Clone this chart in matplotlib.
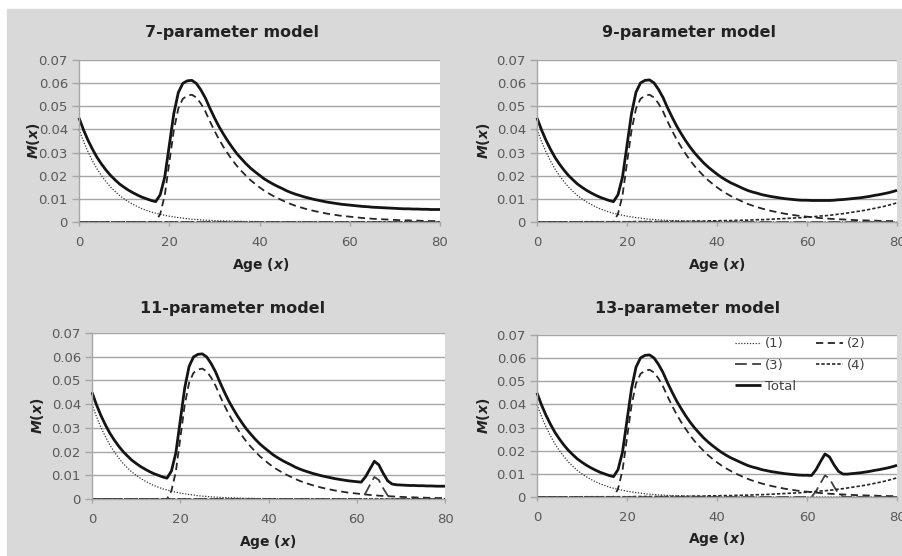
import matplotlib.pyplot as plt
from matplotlib.patches import Rectangle

# ages 0..80, values
age = list(range(81))

# (1) infant/childhood component
comp1 = [0.0400, 0.0348, 0.0303, 0.0264, 0.0229, 0.0200, 0.0174, 0.0151, 0.0132, 0.0114,
         0.0100, 0.0087, 0.0076, 0.0066, 0.0057, 0.0050, 0.0043, 0.0038, 0.0033, 0.0029,
         0.0025, 0.0022, 0.0019, 0.0017, 0.0014, 0.0012, 0.0011, 0.0009, 0.0008, 0.0007,
         0.0006, 0.0005, 0.0005, 0.0004, 0.0004, 0.0003, 0.0003, 0.0002, 0.0002, 0.0002,
         0.0002, 0.0001, 0.0001, 0.0001, 0.0001, 0.0001, 0.0, 0.0, 0.0, 0.0,
         0.0, 0.0, 0.0, 0.0, 0.0, 0.0, 0.0, 0.0, 0.0, 0.0,
         0.0, 0.0, 0.0, 0.0, 0.0, 0.0, 0.0, 0.0, 0.0, 0.0,
         0.0, 0.0, 0.0, 0.0, 0.0, 0.0, 0.0, 0.0, 0.0, 0.0,
         0.0]

# (2) young adult hump
comp2 = [0.0, 0.0, 0.0, 0.0, 0.0, 0.0, 0.0, 0.0, 0.0, 0.0,
         0.0, 0.0, 0.0, 0.0, 0.0, 0.0, 0.0, 0.0, 0.0035, 0.0115,
         0.0255, 0.0395, 0.0490, 0.0532, 0.0546, 0.0550, 0.0538, 0.0512, 0.0478, 0.0435,
         0.0395, 0.0358, 0.0325, 0.0295, 0.0267, 0.0242, 0.0220, 0.0200, 0.0181, 0.0165,
         0.0150, 0.0136, 0.0124, 0.0113, 0.0103, 0.0094, 0.0085, 0.0077, 0.0070, 0.0064,
         0.0058, 0.0053, 0.0048, 0.0044, 0.0040, 0.0036, 0.0033, 0.0030, 0.0027, 0.0025,
         0.0023, 0.0021, 0.0019, 0.0017, 0.0016, 0.0014, 0.0013, 0.0012, 0.0011, 0.0010,
         0.0009, 0.0008, 0.0007, 0.0007, 0.0006, 0.0006, 0.0005, 0.0005, 0.0004, 0.0004,
         0.0004]

# (3) hump around age 64
comp3 = [0.0, 0.0, 0.0, 0.0, 0.0, 0.0, 0.0, 0.0, 0.0, 0.0,
         0.0, 0.0, 0.0, 0.0, 0.0, 0.0, 0.0, 0.0, 0.0, 0.0,
         0.0, 0.0, 0.0, 0.0, 0.0, 0.0, 0.0, 0.0, 0.0, 0.0,
         0.0, 0.0, 0.0, 0.0, 0.0, 0.0, 0.0, 0.0, 0.0, 0.0,
         0.0, 0.0, 0.0, 0.0, 0.0, 0.0, 0.0, 0.0, 0.0, 0.0,
         0.0, 0.0, 0.0, 0.0, 0.0, 0.0, 0.0, 0.0, 0.0, 0.0,
         0.0, 0.0, 0.0025, 0.0060, 0.0093, 0.0080, 0.0045, 0.0015, 0.0002, 0.0,
         0.0, 0.0, 0.0, 0.0, 0.0, 0.0, 0.0, 0.0, 0.0, 0.0,
         0.0]

# (4) senescent component
comp4 = [0.0, 0.0, 0.0, 0.0, 0.0, 0.0, 0.0, 0.0, 0.0, 0.0,
         0.0001, 0.0001, 0.0001, 0.0001, 0.0001, 0.0001, 0.0001, 0.0001, 0.0001, 0.0001,
         0.0001, 0.0001, 0.0002, 0.0002, 0.0002, 0.0002, 0.0002, 0.0002, 0.0002, 0.0002,
         0.0003, 0.0003, 0.0003, 0.0003, 0.0003, 0.0004, 0.0004, 0.0004, 0.0005, 0.0005,
         0.0005, 0.0006, 0.0006, 0.0006, 0.0007, 0.0007, 0.0008, 0.0008, 0.0009, 0.0010,
         0.0010, 0.0011, 0.0012, 0.0013, 0.0014, 0.0015, 0.0016, 0.0017, 0.0018, 0.0019,
         0.0021, 0.0022, 0.0024, 0.0026, 0.0027, 0.0029, 0.0031, 0.0034, 0.0036, 0.0039,
         0.0042, 0.0045, 0.0048, 0.0051, 0.0055, 0.0059, 0.0063, 0.0067, 0.0072, 0.0077,
         0.0083]

none = [0.0] * len(age)

total7 = [0.0450, 0.0398, 0.0353, 0.0314, 0.0279, 0.0250, 0.0224, 0.0201, 0.0182, 0.0164,
          0.0150, 0.0137, 0.0126, 0.0116, 0.0107, 0.0100, 0.0093, 0.0088, 0.0118, 0.0194,
          0.0330, 0.0467, 0.0559, 0.0599, 0.0610, 0.0612, 0.0599, 0.0571, 0.0536, 0.0492,
          0.0451, 0.0413, 0.0380, 0.0349, 0.0321, 0.0295, 0.0273, 0.0252, 0.0233, 0.0217,
          0.0202, 0.0187, 0.0175, 0.0164, 0.0154, 0.0145, 0.0135, 0.0127, 0.0120, 0.0114,
          0.0108, 0.0103, 0.0098, 0.0094, 0.0090, 0.0086, 0.0083, 0.0080, 0.0077, 0.0075,
          0.0073, 0.0071, 0.0069, 0.0067, 0.0066, 0.0064, 0.0063, 0.0062, 0.0061, 0.0060,
          0.0059, 0.0058, 0.0057, 0.0057, 0.0056, 0.0056, 0.0055, 0.0055, 0.0054, 0.0054,
          0.0054]

total9 = [0.0450, 0.0398, 0.0353, 0.0314, 0.0279, 0.0250, 0.0224, 0.0201, 0.0182, 0.0164,
          0.0150, 0.0137, 0.0126, 0.0116, 0.0107, 0.0100, 0.0093, 0.0088, 0.0118, 0.0194,
          0.0331, 0.0468, 0.0561, 0.0601, 0.0612, 0.0614, 0.0601, 0.0573, 0.0538, 0.0494,
          0.0454, 0.0416, 0.0383, 0.0352, 0.0324, 0.0299, 0.0277, 0.0256, 0.0238, 0.0222,
          0.0207, 0.0193, 0.0181, 0.0170, 0.0161, 0.0152, 0.0143, 0.0135, 0.0129, 0.0124,
          0.0118, 0.0114, 0.0110, 0.0107, 0.0104, 0.0101, 0.0099, 0.0097, 0.0095, 0.0094,
          0.0094, 0.0093, 0.0093, 0.0093, 0.0093, 0.0093, 0.0094, 0.0096, 0.0097, 0.0099,
          0.0101, 0.0103, 0.0105, 0.0108, 0.0111, 0.0115, 0.0118, 0.0122, 0.0126, 0.0131,
          0.0137]

total11 = [0.0450, 0.0398, 0.0353, 0.0314, 0.0279, 0.0250, 0.0224, 0.0201, 0.0182, 0.0164,
           0.0150, 0.0137, 0.0126, 0.0116, 0.0107, 0.0100, 0.0093, 0.0088, 0.0118, 0.0194,
           0.0330, 0.0467, 0.0559, 0.0599, 0.0610, 0.0612, 0.0599, 0.0571, 0.0536, 0.0492,
           0.0451, 0.0413, 0.0380, 0.0349, 0.0321, 0.0295, 0.0273, 0.0252, 0.0233, 0.0217,
           0.0202, 0.0187, 0.0175, 0.0164, 0.0154, 0.0145, 0.0135, 0.0127, 0.0120, 0.0114,
           0.0108, 0.0103, 0.0098, 0.0094, 0.0090, 0.0086, 0.0083, 0.0080, 0.0077, 0.0075,
           0.0073, 0.0071, 0.0094, 0.0127, 0.0159, 0.0144, 0.0108, 0.0077, 0.0063, 0.0060,
           0.0059, 0.0058, 0.0057, 0.0057, 0.0056, 0.0056, 0.0055, 0.0055, 0.0054, 0.0054,
           0.0054]

total13 = [0.0450, 0.0398, 0.0353, 0.0314, 0.0279, 0.0250, 0.0224, 0.0201, 0.0182, 0.0164,
           0.0150, 0.0137, 0.0126, 0.0116, 0.0107, 0.0100, 0.0093, 0.0088, 0.0118, 0.0194,
           0.0331, 0.0468, 0.0561, 0.0601, 0.0612, 0.0614, 0.0601, 0.0573, 0.0538, 0.0494,
           0.0454, 0.0416, 0.0383, 0.0352, 0.0324, 0.0299, 0.0277, 0.0256, 0.0238, 0.0222,
           0.0207, 0.0193, 0.0181, 0.0170, 0.0161, 0.0152, 0.0143, 0.0135, 0.0129, 0.0124,
           0.0118, 0.0114, 0.0110, 0.0107, 0.0104, 0.0101, 0.0099, 0.0097, 0.0095, 0.0094,
           0.0094, 0.0093, 0.0118, 0.0153, 0.0186, 0.0173, 0.0139, 0.0111, 0.0099, 0.0099,
           0.0101, 0.0103, 0.0105, 0.0108, 0.0111, 0.0115, 0.0118, 0.0122, 0.0126, 0.0131,
           0.0137]

titles = ["7-parameter model", "9-parameter model", "11-parameter model", "13-parameter model"]
yticks = [0, 0.01, 0.02, 0.03, 0.04, 0.05, 0.06, 0.07]
ytick_labels = ["0", "0.01", "0.02", "0.03", "0.04", "0.05", "0.06", "0.07"]
xticks = [0, 20, 40, 60, 80]
legend_labels = ["(1)", "(2)", "(3)", "(4)", "Total"]

panels = [
    (comp1, comp2, none, none, total7),
    (comp1, comp2, none, comp4, total9),
    (comp1, comp2, comp3, none, total11),
    (comp1, comp2, comp3, comp4, total13),
]

styles = [
    dict(color="#333333", lw=0.9, ls=(0, (1, 1.3))),
    dict(color="#262626", lw=1.3, ls=(0, (4, 2.5))),
    dict(color="#404040", lw=1.3, ls=(0, (6.5, 3))),
    dict(color="#262626", lw=1.2, ls=(0, (2, 1.2))),
    dict(color="#141414", lw=2.0, ls="-"),
]

W, H = 902, 556
fig = plt.figure(figsize=(W / 100, H / 100), dpi=100, facecolor="white")
fig.patches.append(Rectangle((7 / W, 0), 1 - 7 / W, (H - 9) / H,
                             transform=fig.transFigure, color="#d9d9d9", zorder=-10))

# plot areas in pixels: left, right, top, bottom
boxes = [(79, 440, 60, 222), (537, 897, 60, 222), (92, 445, 333, 499), (537, 897, 335, 497)]
title_pos = [(232, 33), (689, 33), (233, 308), (688, 308)]
xlab_pos = [(261, 265), (717, 265), (268, 542), (717, 539)]
ylab_x = [33, 483, 38, 483]

grid_c = "#a6a6a6"
tick_c = "#595959"

for i, (l, r, t, b) in enumerate(boxes):
    ax = fig.add_axes([l / W, 1 - b / H, (r - l) / W, (b - t) / H])
    ax.set_facecolor("white")
    lines = []
    for series, st in zip(panels[i], styles):
        ln, = ax.plot(age, series, color=st["color"], lw=st["lw"], linestyle=st["ls"],
                      clip_on=False, solid_capstyle="butt")
        lines.append(ln)
    ax.set_xlim(0, 80)
    ax.set_ylim(0, 0.07)
    ax.set_yticks(yticks)
    ax.set_yticklabels(ytick_labels)
    ax.set_xticks(xticks)
    ax.yaxis.grid(True, color=grid_c, lw=1.0)
    ax.set_axisbelow(True)
    for s in ["top", "right"]:
        ax.spines[s].set_visible(False)
    for s in ["left", "bottom"]:
        ax.spines[s].set_color(grid_c)
        ax.spines[s].set_linewidth(1.0)
    ax.tick_params(axis="y", colors=grid_c, labelcolor=tick_c, labelsize=9.5,
                   length=5, width=1.0, pad=3)
    ax.tick_params(axis="x", colors=grid_c, labelcolor=tick_c, labelsize=9.5,
                   length=3, width=1.0, pad=7)

    tx, ty = title_pos[i]
    fig.text(tx / W, 1 - ty / H, titles[i], ha="center", va="center",
             fontsize=11.5, fontweight="bold", color="#222222")
    xx, xy = xlab_pos[i]
    fig.text(xx / W, 1 - xy / H, "Age (" + r"$\mathbfit{x}$" + ")", ha="center", va="center",
             fontsize=10, fontweight="bold", color="#222222")
    fig.text(ylab_x[i] / W, 1 - ((t + b) / 2) / H, r"$\mathbfit{M}$" + "(" + r"$\mathbfit{x}$" + ")",
             rotation=90, ha="center", va="center", fontsize=10, fontweight="bold", color="#222222")

    if i == 3:
        order = [0, 2, 4, 1, 3]
        ax.legend([lines[k] for k in order], [legend_labels[k] for k in order],
                  loc="upper left", bbox_to_anchor=(0.55, 0.985), ncol=2, frameon=False,
                  fontsize=9.5, handlelength=2.0, handletextpad=0.3, columnspacing=1.5,
                  labelspacing=0.62, borderpad=0, borderaxespad=0, labelcolor="#404040")

fig.savefig("out.png", dpi=100, facecolor="white")
